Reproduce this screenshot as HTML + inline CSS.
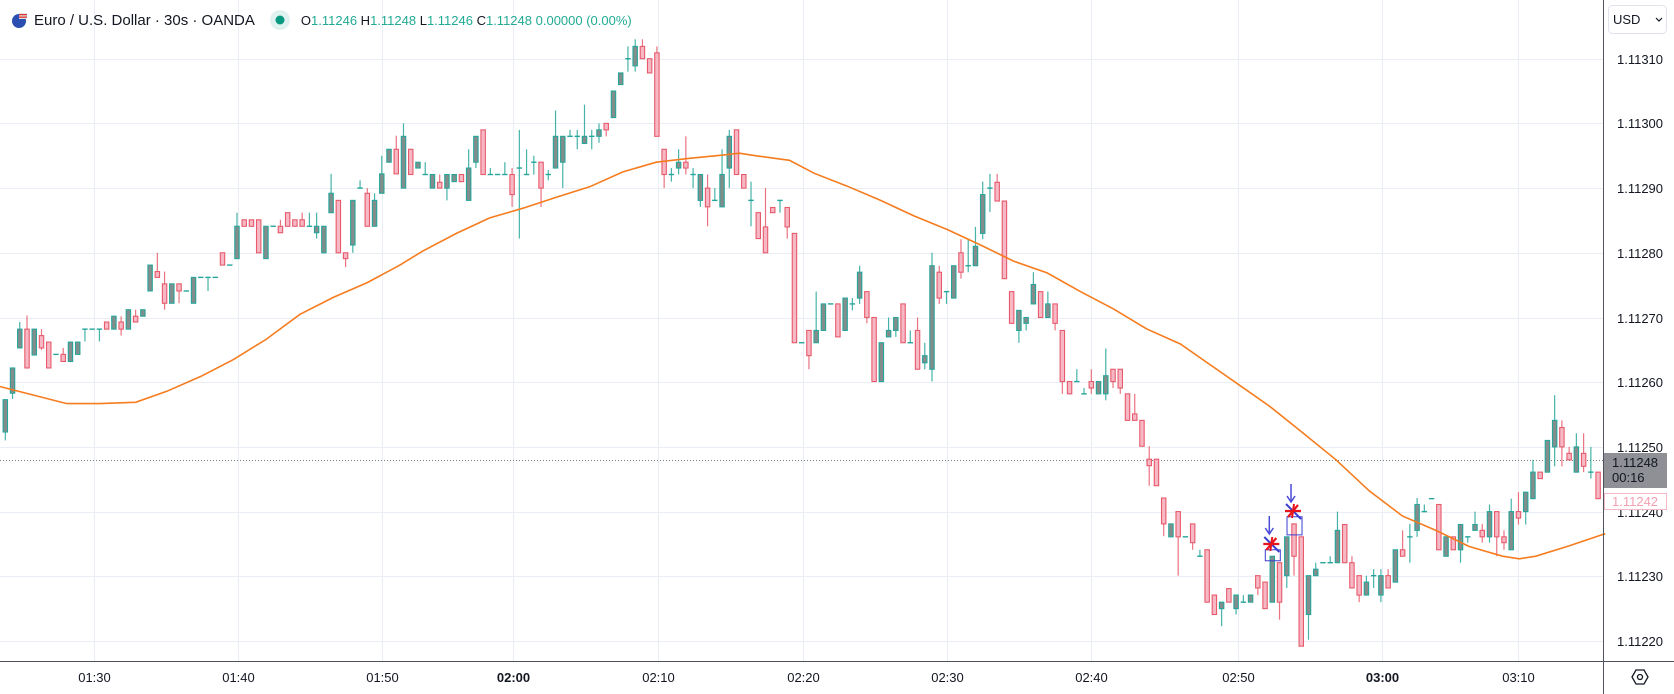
<!DOCTYPE html>
<html><head><meta charset="utf-8">
<style>
html,body{margin:0;padding:0;background:#fff;}
body{width:1674px;height:694px;overflow:hidden;position:relative;font-family:"Liberation Sans",sans-serif;}
#hdr{position:absolute;left:10px;top:9px;height:22px;display:flex;align-items:center;white-space:nowrap;z-index:2;}
#chart{position:absolute;left:0;top:0;z-index:1;}
.title{font-size:15px;color:#131722;margin-left:6px;}
.ohlc{font-size:13px;color:#131722;margin-left:10px;}
.ohlc span{color:#22ab94;}
</style></head>
<body>
<div id="hdr">
  <svg width="18" height="18"><circle cx="9" cy="10" r="7" fill="#2a4fb0"/><rect x="9" y="2" width="8" height="6" fill="#e0e0e0"/><rect x="9" y="3" width="8" height="1.3" fill="#d33"/><rect x="9" y="5.5" width="8" height="1.3" fill="#d33"/></svg>
  <span class="title">Euro / U.S. Dollar · 30s · OANDA</span>
  <svg width="22" height="22" style="margin-left:14px"><circle cx="11" cy="11" r="10" fill="#e0f2ef"/><circle cx="11" cy="11" r="4.5" fill="#089981"/></svg>
  <span class="ohlc">O<span>1.11246</span> H<span>1.11248</span> L<span>1.11246</span> C<span>1.11248</span> <span>0.00000 (0.00%)</span></span>
</div>
<svg id="chart" width="1674" height="694">
<g id="grid"></g>
<g id="candles"></g>
<g id="ma"></g>
<g id="ann"></g>
<g id="axis"></g>
</svg>
<script>
const opens=[32.3,38.3,45.3,48.2,44.2,47.2,46.2,44.3,44.3,43.2,44.3,48.2,48.2,48.2,49.3,48.2,49.3,48.2,50.2,50.2,54.1,57.1,55.2,52.2,55.2,54.1,52.2,56.2,56.2,56.2,60,58.1,59.1,65.1,65.1,65.1,59.1,64.1,64.1,66.2,65.1,65.1,64.1,63.1,60,66.2,68.1,60,61.2,70,69.2,64.1,69.2,74,76,70,76,73.1,72.1,70,70.9,70,71,72.1,68.1,74,79,72.1,72.1,72.1,72.1,73.1,72.1,74,74,72.1,73.1,74,78,78,76.9,78,78,80,80.9,86,90,88.9,91.9,90,90.9,76,72.1,73.1,74,72.1,68.1,70,68.1,67.1,73.1,79,72.1,68.1,66.2,64,67,68.1,67,63,46.1,48,46.1,48,52.1,52.1,48,52.1,53,54,50,40.1,47,48,52.1,46.1,48,43,42,57,54,53,60,58,58,63,70,70.9,68,54,48,49.1,52.1,54,50,52.1,48,40.1,40.1,38.2,40.1,38.2,38.2,42,42,38.2,35.1,34.1,28.1,28.1,22.1,16.1,20,16.1,18.1,13.1,14.1,7.1,5,8.1,5,6,6,10.1,9.1,6,12.1,10.1,18.1,16.1,4.1,10.1,12.1,12.1,12.1,18,12.1,10.1,7.1,10.1,7.1,10.1,9.1,14.1,16.1,17.1,20,22,21.1,13.1,16.1,14.1,16.1,17.1,17.1,16.1,20,16.1,14.1,20,20,22,26.1,26.1,30,33,29,26.1,29,26.1,26.1];
const highs=[37.3,42.2,49.3,50.3,48.2,48.2,46.2,44.3,45.3,46.2,46.2,48.2,48.2,48.2,49.3,50.2,50.2,51.2,51.2,51.2,58.1,60,57.1,55.2,55.2,54.1,56.2,56.2,56.2,56.2,60,58.1,66.2,65.1,65.1,65.1,64.1,64.1,65.1,66.2,65.1,66.2,66.2,66.2,64.1,72.2,68.1,60,68.1,71.2,70,69.2,75,76,78.1,80,76,74,74,72.1,72.1,72.1,72.1,72.1,76,78,79,73.1,72.1,74,73.1,79,76,75,74,72.8,82,78,79,79,82.9,79,80,80,85,87.8,91.9,93,93,90,91.9,76,73.1,76,78,73.1,72.1,72.1,70,76,79,79,72.1,71,66.2,70,67,68.1,67,63,46.1,48,54,52.1,52.1,52.1,53,53,58,54,50,46.1,50,50,52.1,48,50,46.1,60,58,54,58,62.1,62.1,64,71,72.2,72.2,68,54,51.1,50,57,54,54,52.1,48,40.1,42,39.1,42,40.1,45.2,42,42,38.2,38.2,34.1,30.1,28.1,22.1,18.1,20,16.1,18.1,14.1,14.1,7.1,6,8.1,7.1,7.1,7.1,10.1,9.1,13.1,12.1,16.1,18.1,16.1,10.1,12.1,12.1,13.1,20,18,13.1,10.1,10.1,11.1,11.1,11.1,14.1,17.1,18.1,22.1,21.1,22,21.1,16.1,16.1,18,16.1,20,18.1,21.1,20,17.1,22,23,23,28,26.1,31,38,34.1,30,32.1,32.1,30,26.1];
const lows=[31,37.4,45.3,42.2,44.2,45,42.2,44.3,43.2,43.2,44.3,46.3,48.2,46.3,48.2,48.2,47.2,48.2,49.3,50.2,54.1,56.2,51.2,52.2,52.2,54.1,52.2,56.2,54.1,56.2,58.1,58.1,59.1,64.1,64.1,60,59.1,64.1,63.1,64.1,64.1,64.1,64.1,62.2,60,66.2,60,57.8,60,70,64.1,64.1,69.2,74,72.2,70,72.1,73.1,72.1,70,70,68.1,71,71,68.1,73.1,72.1,72.1,72.1,72.1,67.1,62.2,72.1,72.1,67.1,71.2,73.1,70,78,76,76.9,76,77,78,80.9,86,88,88,90,87.8,78,70,71,72.1,72.1,70,67.1,64.1,68.1,67.1,70,72.1,70,64.1,62.2,60,66.2,66.2,62.2,46.1,46.1,42,46.1,48,52.1,47,48,51.1,52.1,49.1,40.1,40.1,47,47,46.1,46.1,42,42,40.1,52.1,52.1,53,56,57,58,62.1,66.3,68,56,49.1,46.1,48,52.1,50,50,48,38.2,38.2,40.1,38.2,38.2,38.2,37.2,39.1,38.2,34.1,34.1,30.1,24,24,16.2,16.1,10.1,16.1,14.1,13.1,6,4.1,2.3,6,4.1,6,6,7.1,5,6,3.3,8.2,10.1,-0.8,0.2,10.1,12.1,12.1,12.1,12.1,8.2,6,7.1,8.2,6,8.2,9.1,13.1,12.1,16.1,20,22,14.1,13.1,14.1,12.1,15.2,17.1,15.2,15.2,13.1,14.1,14.1,18,18,22,25.1,26.1,27,27,28,26.1,26.1,25.1,22];
const closes=[37.3,42.2,48.2,42.2,48.2,45.3,42.2,44.3,43.2,46.2,46.2,48.2,48.2,48.2,48.2,50.2,48.2,51.2,49.3,51.2,58.1,56.2,52.2,55.2,54.1,54.1,56.2,56.2,56.2,56.2,58.1,58.1,64.1,64.1,64.1,60,64.1,64.1,63.1,64.1,64.1,64.1,64.1,64.1,64.1,69.2,60,59.1,68.1,70,64.1,68.1,72.2,76,72.2,78,72.1,74,72.1,72.1,70,72.1,72.1,71,73.1,78,72.1,72.1,72.1,72.1,69,73.1,72.1,74,70,72.1,78,78,78,78,78,78,79,79,85,87.8,90,91.9,90,87.8,78,72.1,72.1,74,73.1,72.1,72.1,67.1,68.1,72.1,78,72.1,70,68.1,62.2,60,66.2,68.1,64,46.1,46.1,44.1,48,52.1,52.1,47,53,52.1,57,50,40.1,46.1,48,50,46.1,46.1,42,44.1,58,53,54,58,57,58,61,69,70,68,56,49.1,51.1,50,55.1,50,52.1,49.1,40.1,38.2,40.1,38.2,39.1,40.1,41,40.1,39.1,34.1,34.1,30.1,27.1,24,18.1,18.1,16.1,16.1,15.2,13.1,6,4.1,6,6,7.1,6,7.1,8.2,5,13.1,6,16.1,13.1,-0.8,10.1,11.1,12.1,12.1,17.1,12.1,8.2,7.1,9.1,10.1,10.1,8.2,14.1,13.1,16.1,21.1,20,22,14.1,16.1,14.1,18,16.1,18,16.1,20,16.1,15.2,20,19,23,26.1,25.1,31,34.1,30,28,30,27,26.1,22];
// moving average samples: candle index and value (points above 1.11220)
const maIdx=[-1,8.5,13,18,22.3,27,31.5,36,40.7,45.3,50,54.5,57.7,62.3,66.9,71.5,76.1,80.7,85.3,89.9,94.5,99.1,101.4,103.7,108.3,111.7,116.3,120.9,125.5,130.1,134.7,139.3,143.9,148.5,153.1,157.7,162.3,165.4,170,174.6,179.2,183.8,188.4,193,197.6,202.2,206.8,209.1,211.4,216,221];
const maVal=[39.4,36.7,36.7,36.9,38.6,40.9,43.5,46.6,50.5,53.1,55.4,58.1,60.3,63,65.4,66.9,68.6,70.2,72.5,74,74.6,75.1,75.4,75,74.3,72.3,70.3,68.1,65.7,63.6,61.2,58.7,56.9,54,51.3,48.2,45.9,43.5,39.9,36.3,32.2,28,23.2,19.3,17.1,14.6,13.1,12.7,13.1,14.7,16.6];
const priceTicks=[1.1122,1.1123,1.1124,1.1125,1.1126,1.1127,1.1128,1.1129,1.113,1.1131];
const timeLabels=["01:30","01:40","01:50","02:00","02:10","02:20","02:30","02:40","02:50","03:00","03:10"];
const timeIdx=[12.2,32.2,52,70.1,90.1,110.2,130,150,170.3,190.2,209];
const boldTimes=["02:00","03:00"];

const NS="http://www.w3.org/2000/svg";
const W=1603,H=661;
function xs(i){return 5.3+i*7.24;}
function ys(p){return 641-p*6.47;}
function yPrice(v){return ys((v-1.1122)*100000);}
function mk(tag,attrs,parent){const e=document.createElementNS(NS,tag);for(const k in attrs)e.setAttribute(k,attrs[k]);parent.appendChild(e);return e;}
const grid=document.getElementById('grid'),cg=document.getElementById('candles'),mg=document.getElementById('ma'),ag=document.getElementById('axis'),an=document.getElementById('ann');

priceTicks.forEach(function(v){
  const y=Math.round(yPrice(v))+0.5;
  const l=mk('line',{x1:0,x2:W,y1:y,y2:y,stroke:'#e9eef4','stroke-width':1},grid);
  
  
  const t=mk('text',{x:1640,y:y+4.5,'font-size':13,'text-anchor':'middle',fill:'#131722','font-family':'Liberation Sans, sans-serif'},ag);
  t.textContent=v.toFixed(5);
  
  
});
timeLabels.forEach(function(s,k){
  const x=Math.round(xs(timeIdx[k]))+0.5;
  const l=mk('line',{x1:x,x2:x,y1:0,y2:H,stroke:'#e9eef4','stroke-width':1},grid);
  
  
  const t=mk('text',{x:x,y:682,'font-size':13,'text-anchor':'middle',fill:'#131722','font-weight':boldTimes.indexOf(s)>=0?'bold':'normal','font-family':'Liberation Sans, sans-serif'},ag);
  t.textContent=s;
  
  
});
(function(){const y=Math.round(ys(28))+0.5;const l=mk('line',{x1:0,x2:W,y1:y,y2:y,stroke:'#787b86','stroke-width':1,'stroke-dasharray':'1,2'},grid);

})();

for(let i=0;i<opens.length;i++){
  const o=opens[i],c=closes[i],h=Math.max(highs[i],o,c),lo=Math.min(lows[i],o,c);
  const up=c>=o;
  const stroke=up?'#26a69a':'#e75a6b',fill=up?'#838d8c':'#f7b8c5';
  const x=xs(i);
  const g=mk('g',{},cg);
  
  
  mk('line',{x1:x,x2:x,y1:ys(h),y2:ys(lo),stroke:stroke,'stroke-width':1.2,opacity:0.85},g);
  const top=ys(Math.max(o,c)),bot=ys(Math.min(o,c));
  if(bot-top<1.5){mk('line',{x1:x-2.7,x2:x+2.7,y1:top,y2:top,stroke:stroke,'stroke-width':1.4},g);}
  else mk('rect',{x:x-2.2,y:top,width:4.4,height:bot-top,fill:fill,stroke:stroke,'stroke-width':1.1},g);
}
(function(){let d='';for(let k=0;k<maIdx.length;k++){d+=(k?'L':'M')+xs(maIdx[k]).toFixed(1)+','+ys(maVal[k]).toFixed(1);}
const p=mk('path',{d:d,fill:'none',stroke:'#f57c1f','stroke-width':1.6},mg);

})();

function annot(i,boxTop,boxBot,starY,arrowTop){
  const x=xs(i);
  const b=mk('rect',{x:x-7,y:ys(boxTop),width:15,height:ys(boxBot)-ys(boxTop),fill:'none',stroke:'#3b3fd0','stroke-width':1},an);
  
  
  const sx=x-1,sy=starY;
  const s=mk('g',{},an);
  
  
  mk('line',{x1:sx-7,y1:sy-7,x2:sx+8,y2:sy+8,stroke:'#3b3fd0','stroke-width':2},s);
  mk('line',{x1:sx-8,y1:sy,x2:sx+8,y2:sy,stroke:'#e8141c','stroke-width':2.2},s);
  mk('line',{x1:sx-5,y1:sy+6,x2:sx+5,y2:sy-6,stroke:'#e8141c','stroke-width':2.2},s);
  mk('line',{x1:sx+1,y1:sy-7,x2:sx-1,y2:sy+7,stroke:'#e8141c','stroke-width':2},s);
  const a=mk('g',{},an);
  
  
  mk('line',{x1:sx-2,y1:arrowTop,x2:sx-2,y2:arrowTop+17,stroke:'#4a4ad8','stroke-width':1.5},a);
  mk('path',{d:'M'+(sx-6)+','+(arrowTop+12)+' L'+(sx-2)+','+(arrowTop+18)+' L'+(sx+2)+','+(arrowTop+12),fill:'none',stroke:'#4a4ad8','stroke-width':1.5},a);
}
annot(175,14.1,12.4,544,516);
annot(178,19.2,16.4,511,484);

mk('line',{x1:1603.5,x2:1603.5,y1:0,y2:694,stroke:'#50535e','stroke-width':1},ag);
mk('line',{x1:0,x2:1674,y1:661.5,y2:661.5,stroke:'#50535e','stroke-width':1},ag);
(function(){const g=mk('g',{},ag);


mk('rect',{x:1608.5,y:5.5,width:58,height:28,rx:4,fill:'#fff',stroke:'#e0e3eb'},g);
const t=mk('text',{x:1613,y:24,'font-size':13,fill:'#131722','font-family':'Liberation Sans, sans-serif'},g);t.textContent='USD';
mk('path',{d:'M1656,18 l3,3 l3,-3',fill:'none',stroke:'#131722','stroke-width':1.2},g);})();
(function(){const g=mk('g',{},ag);


mk('rect',{x:1604,y:453,width:63,height:35,fill:'#8e9096'},g);
const t1=mk('text',{x:1612,y:467,'font-size':13,fill:'#131722','font-family':'Liberation Sans, sans-serif'},g);t1.textContent='1.11248';
const t2=mk('text',{x:1612,y:482,'font-size':13,fill:'#131722','font-family':'Liberation Sans, sans-serif'},g);t2.textContent='00:16';})();
(function(){const g=mk('g',{},ag);


mk('rect',{x:1604.5,y:493.5,width:62,height:16,fill:'#fff',stroke:'#f7b8c5'},g);
const t=mk('text',{x:1612,y:506,'font-size':13,fill:'#f4a0b0','font-family':'Liberation Sans, sans-serif'},g);t.textContent='1.11242';})();
(function(){const g=mk('g',{},ag);


mk('path',{d:'M1632,677 l4,-7 h8 l4,7 l-4,7 h-8 z',fill:'none',stroke:'#131722','stroke-width':1.3},g);
mk('circle',{cx:1640,cy:677,r:2.5,fill:'none',stroke:'#131722','stroke-width':1.3},g);})();
</script>
</body></html>
